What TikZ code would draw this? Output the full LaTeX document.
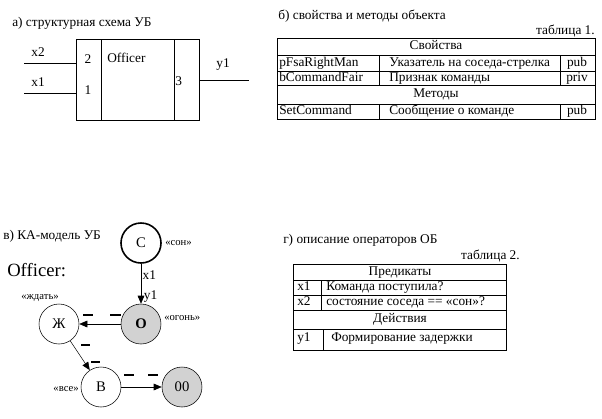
\documentclass[tikz,border=0pt]{standalone}
\usepackage{fontspec}
\setmainfont{Liberation Serif}
\usetikzlibrary{arrows.meta,positioning}
\tikzset{txt/.style={inner sep=0pt, text height=7pt, text depth=2pt, font=\fontsize{10}{12}\selectfont},
tag/.style={inner sep=0pt, font=\fontsize{8}{10}\selectfont},
state/.style={circle, draw, minimum size=30pt, inner sep=0pt, font=\fontsize{11}{13}\selectfont},
busy/.style={state, fill=gray!35},
flow/.style={-{Triangle[length=6pt,width=5pt]}},
bar/.style={line width=2.2pt}}

\begin{document}
\begin{tikzpicture}[x=0.75pt,y=-0.75pt]
        \useasboundingbox (0,0) rectangle (602,418);

        % a) block
        \node[txt, anchor=west] (ta) at (12,23) {а) структурная схема УБ};
        \node[draw, minimum width=92.25pt, minimum height=60.75pt, inner sep=0pt] (ub) at (137.5,79.5) {};
        \draw (101,39) -- (101,120)
              (174,39) -- (174,120);
        \coordinate (in2) at (24,63);
        \coordinate (in1) at (24,93);
        \coordinate (out) at (249,80);
        \draw (in2) -- (in2 -| ub.west)
              (in1) -- (in1 -| ub.west)
              (out -| ub.east) -- (out);
        \node[txt] (lx2) at (38,53) {x2};
        \node[txt] (lx1) at (38,83) {x1};
        \node[txt] (p2) at (88,60) {2};
        \node[txt] (p1) at (88,91) {1};
        \node[txt, anchor=west] (nm) at (107,59) {Officer};
        \node[txt, anchor=west] (p3) at (175,82) {3};
        \node[txt] (ly1) at (223,64) {y1};

        % b) table 1
        \node[txt, anchor=west] (tb) at (278,16) {б) свойства и методы объекта};
        \node[txt, anchor=east] (t1) at (595,31) {таблица 1.};
        \draw (277,38) rectangle (595,119);
        \draw (277,55) -- (595,55)
              (277,71) -- (595,71)
              (277,85) -- (595,85)
              (277,104) -- (595,104);
        \draw (379,55) -- (379,85) (560,55) -- (560,85)
              (379,104) -- (379,119) (560,104) -- (560,119);
        \node[txt] (h1) at (436,46.5) {Свойства};
        \node[txt, anchor=west] (r1a) at (279,63) {pFsaRightMan};
        \node[txt, anchor=west] (r1b) at (389,63) {Указатель на соседа-стрелка};
        \node[txt] (r1c) at (577,63) {pub};
        \node[txt, anchor=west] (r2a) at (279,78) {bCommandFair};
        \node[txt, anchor=west] (r2b) at (389,78) {Признак команды};
        \node[txt] (r2c) at (577,78) {priv};
        \node[txt] (h2) at (436,94.5) {Методы};
        \node[txt, anchor=west] (r3a) at (279,111.5) {SetCommand};
        \node[txt, anchor=west] (r3b) at (389,111.5) {Сообщение о команде};
        \node[txt] (r3c) at (577,111.5) {pub};

        % c) automaton
        \node[txt, anchor=west] (tc) at (3,236) {в) КА-модель УБ};
        \node[anchor=west, inner sep=0pt, font=\fontsize{14}{16}\selectfont] (nm2) at (7,270) {Officer:};
        \node[state, line width=1.2pt] (C) at (141,243) {С};
        \node[busy] (O) at (141,324) {\textbf{О}};
        \node[state] (J) at (59,324) {Ж};
        \node[state] (V) at (101,387) {В};
        \node[busy] (Z) at (182,387) {00};
        \node[tag, anchor=west] (sC) at (165,243) {«сон»};
        \node[tag, anchor=west] (sO) at (164,318) {«огонь»};
        \node[tag] (sJ) at (40,298) {«ждать»};
        \node[tag, anchor=east] (sV) at (79,389) {«все»};

        \draw (C) edge[flow] node[txt, right=1pt, pos=0.32]{x1} node[txt, right=2pt, pos=0.8]{y1} (O)
              (O) edge[flow] (J)
              (J) edge[flow] (V)
              (V) edge[flow] (Z)
              ;
        \draw[bar] (83,315) -- (93,315) (110,315) -- (121,315)
                   (81,345) -- (90,345) (91,362) -- (100,362)
                   (124,375) -- (134,375) (148,375) -- (158,375);

        % d) table 2
        \node[txt, anchor=west] (td) at (283,240) {г) описание операторов ОБ};
        \node[txt, anchor=east] (t2) at (520,256) {таблица 2.};
        \draw (293,264) rectangle (506,350);
        \draw (293,280) -- (506,280)
              (293,295) -- (506,295)
              (293,310) -- (506,310)
              (293,329) -- (506,329);
        \draw (321,280) -- (321,310) (323,329) -- (323,350);
        \node[txt] (h3) at (400,272) {Предикаты};
        \node[txt, anchor=west] (q1) at (297,287.5) {x1};
        \node[txt, anchor=west] (q1t) at (326,287.5) {Команда поступила?};
        \node[txt, anchor=west] (q2) at (297,302.5) {x2};
        \node[txt, anchor=west] (q2t) at (326,302.5) {состояние соседа == «сон»?};
        \node[txt] (h4) at (400,319.5) {Действия};
        \node[txt, anchor=west] (a1) at (297,338) {y1};
        \node[txt, anchor=west] (a1t) at (331,338) {Формирование задержки};
    \end{tikzpicture}
\end{document}
